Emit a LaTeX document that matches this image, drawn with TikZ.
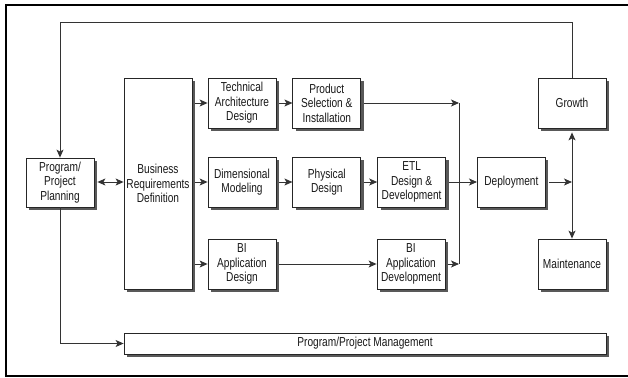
\documentclass[tikz,border=0pt]{standalone}
\usepackage{fontspec}
\setmainfont{Liberation Sans}[FakeStretch=0.78]
\usetikzlibrary{positioning, arrows.meta, shadows}

\tikzset{
	box/.style={draw=black!85, fill=white, line width=0.8pt, minimum width=68pt, minimum height=50pt,
		inner sep=1pt, align=center, text=black!90, font=\fontsize{13}{14.5}\selectfont,
		drop shadow={shadow xshift=3pt, shadow yshift=-3pt, fill=black!65, opacity=1}},
	tip/.tip={Stealth[length=8pt, width=7pt, inset=2pt]},
	flow/.style={-tip, line width=0.9pt, draw=black!80},
	link/.style={line width=0.9pt, draw=black!80},
}

\begin{document}
\begin{tikzpicture}[x=1pt, y=-1pt]
	\useasboundingbox (0,0) rectangle (628,377);
	\draw[line width=1.5pt] (6,5) rectangle (640,376);

	\node[box, minimum height=49pt] (ppp) at (60,182.5) {Program/\\Project\\Planning};
	\node[box, minimum height=211pt] (brd) at (158,183.5) {Business\\Requirements\\Definition};

	\node[box] (tad) at (242,103) {Technical\\Architecture\\Design};
	\node[box, right=16pt of tad] (psi) {Product\\Selection \&\\Installation};

	\node[box] (dm) at (242,182) {Dimensional\\Modeling};
	\node[box, right=16pt of dm] (phd) {Physical\\Design};
	\node[box, right=16pt of phd] (etl) {ETL\\Design \&\\Development};
	\node[box, right=31pt of etl] (dep) {Deployment};

	\node[box] (biad) at (242,264) {BI\\Application\\Design};
	\node[box] (biadv) at (411,264) {BI\\Application\\Development};

	\node[box] (gro) at (572,103) {Growth};
	\node[box] (mnt) at (572,264) {Maintenance};

	\node[box, minimum width=482pt, minimum height=21pt] (ppm) at (365,343.5) {Program/Project Management};

	\coordinate (jn) at (459,103);

	% feedback loop over the top
	\draw[flow] (gro.north) -- (gro.north |- 0,22) -| (ppp.north);
	\draw[flow, tip-tip, shorten <=3pt] (ppp.east |- 0,182) -- (brd.west |- 0,182);
	\draw[flow] (ppp.south) |- (ppm.west);

	\draw[flow, shorten <=3pt] (brd.east |- tad) -- (tad.west);
	\draw[flow, shorten <=3pt] (brd.east |- dm) -- (dm.west);
	\draw[flow, shorten <=3pt] (brd.east |- biad) -- (biad.west);

	\draw[flow, shorten <=3pt] (tad.east) -- (psi.west);
	\draw[flow, shorten <=3pt] (dm.east) -- (phd.west);
	\draw[flow, shorten <=3pt] (phd.east) -- (etl.west);
	\draw[flow, shorten <=3pt] (biad.east) -- (biadv.west);

	\draw[flow, shorten <=3pt] (psi.east) -- (jn);
	\draw[link] (jn) -- (jn |- biadv);
	\draw[flow, shorten <=3pt] (biadv.east) -- (jn |- biadv);
	\draw[flow, shorten <=3pt] (etl.east) -- (dep.west);

	\draw[flow, shorten <=3pt] (dep.east) -- (dep.east -| gro.south);
	\draw[flow, tip-tip, shorten <=4pt] (gro.south) -- (mnt.north);
\end{tikzpicture}
\end{document}
